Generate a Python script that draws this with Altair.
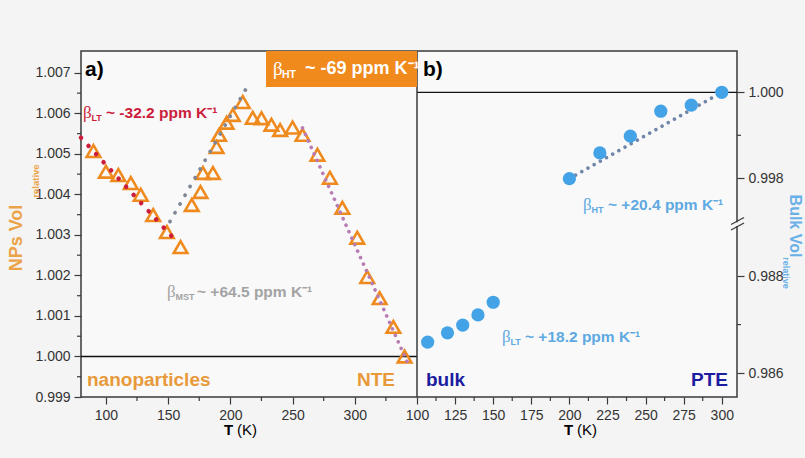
import altair as alt
import pandas as pd

FONT = "Liberation Sans"
BG = "#f4f4f4"
PLOT_BG = "#f9f9f9"
AX = "#3a3a3a"
ORANGE = "#ef8a1e"
ORANGE_TXT = "#e8993a"
RED = "#cc1e3c"
GRAY_TXT = "#a3a3a3"
BLUE = "#44a2e6"
BLUE_TXT = "#5ea9e2"
NAVY = "#1c1ca0"

# ---------------- data ----------------
np_T = [90, 100, 110, 120, 128, 138, 149, 160,
        169, 176, 178, 186, 189, 191, 197, 202, 210,
        218, 225, 233, 240, 250, 258,
        270, 280, 290, 302, 310, 320, 331, 340]
np_V = [1.00507, 1.00456, 1.00448, 1.00428, 1.00399, 1.00349, 1.00307, 1.00270,
        1.00374, 1.00406, 1.00453, 1.00453, 1.00517, 1.00547, 1.00577, 1.00596, 1.00628,
        1.00589, 1.00588, 1.00572, 1.00559, 1.00565, 1.00547,
        1.00498, 1.00441, 1.00367, 1.00293, 1.00196, 1.00144, 1.00073, 1.00000]

bulk_lt_T = [107, 120, 130, 140, 150]
bulk_lt_V = [0.98664, 0.98683, 0.98699, 0.98720, 0.98746]
bulk_ht_T = [200, 220, 240, 260, 280, 300]
bulk_ht_V = [0.99796, 0.99859, 0.99898, 0.99956, 0.99970, 1.00000]

fit_lt_T = [80, 157]
fit_lt_V = [1.00540, 1.00283]
fit_mst_T = [151.5, 212.5]
fit_mst_V = [1.00333, 1.00660]
fit_ht_T = [258, 344]
fit_ht_V = [1.00564, 0.99974]
fit_bulk_T = [200, 300]
fit_bulk_V = [0.99796, 1.00000]

np_ticks_y = [0.999, 1.000, 1.001, 1.002, 1.003, 1.004, 1.005, 1.006, 1.007]
np_minor_y = [0.9995, 1.0005, 1.0015, 1.0025, 1.0035, 1.0045, 1.0055, 1.0065]
np_ticks_x = [100, 150, 200, 250, 300]
np_minor_x = [125, 175, 225, 275, 325]
bulk_ticks_x = [100, 125, 150, 175, 200, 225, 250, 275, 300]
bulk_minor_x = [112.5, 137.5, 162.5, 187.5, 212.5, 237.5, 262.5, 287.5]
bulk_ticks_y = [0.986, 0.988, 0.998, 1.000]
bulk_minor_y = [0.987, 0.999]

W_L, W_R, H = 336, 320, 346


def df(**cols):
    return pd.DataFrame(cols)


def xaxis(values):
    return alt.Axis(values=values, title=None, orient="bottom", labelFlush=False,
                    labelOverlap=False, tickSize=7, labelPadding=4, domain=False)


xl = alt.X("T:Q", scale=alt.Scale(domain=[80, 350], range=[0, W_L], nice=False, zero=False),
           axis=xaxis(np_ticks_x))
yl = alt.Y("V:Q", scale=alt.Scale(domain=[0.999, 1.00754], range=[H, 0], nice=False, zero=False),
           axis=alt.Axis(values=np_ticks_y, format=".3f", title=None, orient="left",
                         labelOverlap=False, tickSize=7, labelPadding=4, domain=False))
xr = alt.X("T:Q", scale=alt.Scale(domain=[100, 310], range=[W_L, W_L + W_R], nice=False, zero=False),
           axis=xaxis(bulk_ticks_x))
yr = alt.Y("V:Q", scale=alt.Scale(domain=[0.98551, 0.988, 0.998, 1.00096],
                                  range=[H, 225, 127.3, 0], nice=False, zero=False),
           axis=alt.Axis(values=bulk_ticks_y, format=".3f", title=None, orient="right",
                         labelOverlap=False, tickSize=7, labelPadding=4, domain=False))


def fit(T, V, x, y, color, dash, width):
    return alt.Chart(df(T=T, V=V)).mark_line(color=color, strokeDash=dash, strokeWidth=width,
                                             strokeCap="round").encode(x=x, y=y)


# ---------------- panel a ----------------
left = alt.layer(
    alt.Chart(df(T=[80, 350], V=[1.0, 1.0])).mark_line(color="#111", strokeWidth=1.3).encode(x=xl, y=yl),
    alt.Chart(df(T=np_T, V=np_V)).mark_point(shape="triangle-up", size=185, filled=False,
                                             strokeWidth=2.6, color=ORANGE, opacity=1).encode(x=xl, y=yl),
    fit(fit_lt_T, fit_lt_V, xl, yl, RED, [0.1, 11], 4.5),
    fit(fit_mst_T, fit_mst_V, xl, yl, "#7f8797", [0.1, 10], 3.8),
    fit(fit_ht_T, fit_ht_V, xl, yl, "#b77cb4", [0.1, 7], 3.6),
    alt.Chart(df(V=np_minor_y)).mark_rule(color=AX, strokeWidth=1.2).encode(
        y=yl, x=alt.value(-4), x2=alt.value(0)),
    alt.Chart(df(T=np_minor_x)).mark_rule(color=AX, strokeWidth=1.2).encode(
        x=xl, y=alt.value(H), y2=alt.value(H + 4)),
)

# ---------------- panel b ----------------
right = alt.layer(
    alt.Chart(df(T=[100, 310], V=[1.0, 1.0])).mark_line(color="#111", strokeWidth=1.3).encode(x=xr, y=yr),
    alt.Chart(df(T=[100])).mark_rule(color=AX, strokeWidth=1.5).encode(x=xr),
    fit(fit_bulk_T, fit_bulk_V, xr, yr, "#6f86a8", [0.1, 7], 3.6),
    alt.Chart(df(T=bulk_lt_T, V=bulk_lt_V)).mark_circle(size=175, color=BLUE, opacity=1).encode(x=xr, y=yr),
    alt.Chart(df(T=bulk_ht_T, V=bulk_ht_V)).mark_circle(size=175, color=BLUE, opacity=1).encode(x=xr, y=yr),
    alt.Chart(df(V=bulk_minor_y)).mark_rule(color=AX, strokeWidth=1.2).encode(
        y=yr, x=alt.value(W_L + W_R), x2=alt.value(W_L + W_R + 4)),
    alt.Chart(df(T=bulk_minor_x)).mark_rule(color=AX, strokeWidth=1.2).encode(
        x=xr, y=alt.value(H), y2=alt.value(H + 4)),
)

ONE = alt.Data(values=[{}])


def txt(s, x, y, size=16, color="#000", weight="bold", font=FONT, align="left",
        angle=0, baseline="middle"):
    return alt.Chart(ONE).mark_text(fontSize=size, color=color, fontWeight=weight, font=font,
                                    align=align, angle=angle, baseline=baseline).encode(
        x=alt.value(x), y=alt.value(y), text=alt.value(s))


def beta(sub, rest, x, y, color, size=15.5, bsize=17, subsize=9, sub_dx=8.5, rest_dx=23, sub_dy=5):
    return [
        txt("β", x, y, size=bsize, color=color, weight="normal", font="Liberation Serif"),
        txt(sub, x + sub_dx, y + sub_dy, size=subsize, color=color),
        txt(rest, x + rest_dx, y, size=size, color=color),
    ]


box = alt.Chart(ONE).mark_rect(color="#f08a1c").encode(
    x=alt.value(185), x2=alt.value(W_L), y=alt.value(0), y2=alt.value(36))

brk = [
    alt.Chart(ONE).mark_rect(color=BG).encode(x=alt.value(653), x2=alt.value(660),
                                              y=alt.value(171.3), y2=alt.value(175)),
    alt.Chart(ONE).mark_rule(color=AX, strokeWidth=1.3).encode(
        x=alt.value(650), y=alt.value(173.5), x2=alt.value(663), y2=alt.value(166.5)),
    alt.Chart(ONE).mark_rule(color=AX, strokeWidth=1.3).encode(
        x=alt.value(650), y=alt.value(179), x2=alt.value(663), y2=alt.value(172)),
]

texts = [
    txt("a)", 4, 19, size=21),
    txt("b)", W_L + 6, 19, size=21),
    *beta("LT", "~ -32.2 ppm K⁻¹", 2, 62, RED),
    box,
    *beta("HT", "~ -69 ppm K⁻¹", 192, 18, "#ffffff", size=18, bsize=19, subsize=10.5,
          sub_dx=9, rest_dx=32, sub_dy=6),
    *beta("MST", "~ +64.5 ppm K⁻¹", 86, 241, GRAY_TXT, rest_dx=30),
    *beta("HT", "~ +20.4 ppm K⁻¹", 502, 154, BLUE_TXT, rest_dx=25),
    *beta("LT", "~ +18.2 ppm K⁻¹", 421, 286, BLUE_TXT, rest_dx=23),
    txt("nanoparticles", 6, 329, size=19, color=ORANGE_TXT),
    txt("NTE", 314, 329, size=19, color=ORANGE_TXT, align="right"),
    txt("bulk", W_L + 9, 329, size=19, color=NAVY),
    txt("PTE", 647, 329, size=19, color=NAVY, align="right"),
    txt("T", 143, 379, size=15),
    txt("(K)", 156, 379, size=15, weight="normal"),
    txt("T", 483, 379, size=15),
    txt("(K)", 496, 379, size=15, weight="normal"),
    txt("NPs Vol", -64.5, 187, size=18, color="#eca347", align="center", angle=270),
    txt("relative", -45, 130, size=9.5, color="#eca347", align="center", angle=270),
    txt("Bulk Vol", 709, 175, size=16, color="#6ab0e8", align="center", angle=90,
        baseline="alphabetic"),
    txt("relative", 705, 222, size=9, color="#6ab0e8", align="center", angle=90),
    *brk,
]

chart = alt.layer(left, right, *texts).resolve_scale(
    x="independent", y="independent"
).properties(
    width=W_L + W_R, height=H,
    autosize=alt.AutoSizeParams(type="none"),
    padding={"left": 81, "top": 51, "right": 68, "bottom": 61},
    background=BG,
).configure_view(
    stroke=AX, strokeWidth=1.5, fill=PLOT_BG
).configure_axis(
    labelFont=FONT, labelFontSize=14, labelColor="#333", tickColor=AX, tickWidth=1.2,
    grid=False,
)

chart.save("out.html", embed_options={"renderer": "svg", "actions": False})
